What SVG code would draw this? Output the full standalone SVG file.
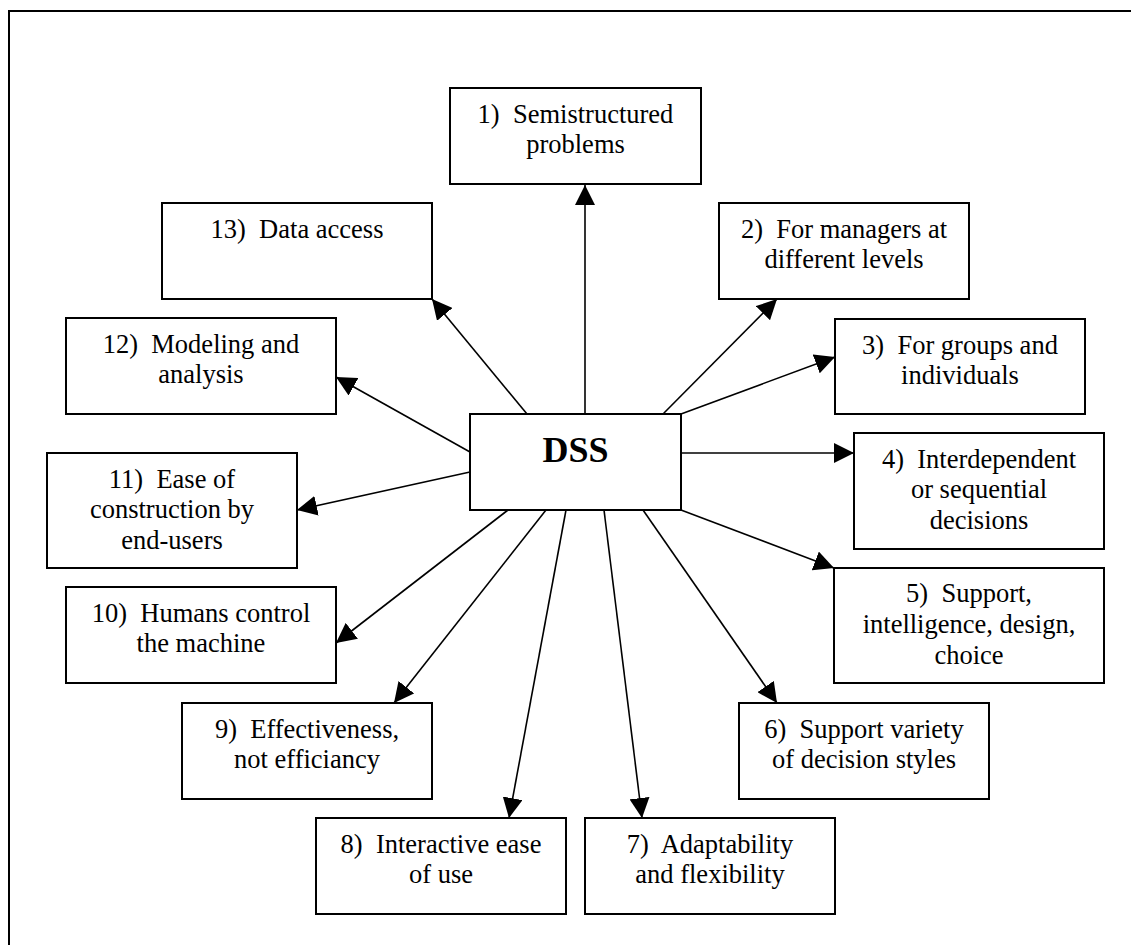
<svg xmlns="http://www.w3.org/2000/svg" width="1131" height="945" viewBox="0 0 1131 945">
  <style>
    .box { fill: #fff; stroke: #000; stroke-width: 2; }
    .lbl { font-family: 'Liberation Serif', 'Times New Roman', serif; font-size: 26.5px; fill: #000; text-anchor: middle; }
    .hub { font-family: 'Liberation Serif', 'Times New Roman', serif; font-size: 36px; font-weight: bold; fill: #000; text-anchor: middle; }
    .edge { stroke: #000; stroke-width: 1.6; fill: none; marker-end: url(#arrow); }
  </style>
  <defs>
    <marker id="arrow" markerUnits="userSpaceOnUse" markerWidth="20" markerHeight="20" refX="20" refY="10" orient="auto" viewBox="0 0 20 20">
      <path d="M0,0 L20,10 L0,20 Z" fill="#000"/>
    </marker>
  </defs>
  <rect width="1131" height="945" fill="#fff"/>

  <!-- frame: top and left rules -->
  <path d="M9,945 V11 H1131" fill="none" stroke="#000" stroke-width="2"/>

  <!-- connectors from the DSS hub -->
  <g id="connectors">
    <line class="edge" x1="585" y1="414" x2="585" y2="185"/>
    <line class="edge" x1="663" y1="414" x2="777" y2="299"/>
    <line class="edge" x1="681" y1="414" x2="835" y2="357"/>
    <line class="edge" x1="681" y1="453" x2="854" y2="453"/>
    <line class="edge" x1="681" y1="510" x2="834" y2="568"/>
    <line class="edge" x1="643" y1="510" x2="777" y2="703"/>
    <line class="edge" x1="604" y1="510" x2="642" y2="818"/>
    <line class="edge" x1="566" y1="510" x2="509" y2="818"/>
    <line class="edge" x1="546" y1="510" x2="394" y2="703"/>
    <line class="edge" x1="508" y1="510" x2="336" y2="643"/>
    <line class="edge" x1="470" y1="472" x2="297" y2="510"/>
    <line class="edge" x1="470" y1="452" x2="336" y2="377"/>
    <line class="edge" x1="527" y1="414" x2="432" y2="299"/>
  </g>

  <g id="dss">
    <rect class="box" x="470" y="414" width="211" height="96"/>
    <text class="hub" x="575.5" y="462">DSS</text>
  </g>

  <g id="n1">
    <rect class="box" x="450" y="88" width="251" height="96"/>
    <text class="lbl" x="575.5" y="122.5" xml:space="preserve">1)  Semistructured</text>
    <text class="lbl" x="575.5" y="153">problems</text>
  </g>

  <g id="n2">
    <rect class="box" x="719" y="203" width="250" height="96"/>
    <text class="lbl" x="844" y="237.5" xml:space="preserve">2)  For managers at</text>
    <text class="lbl" x="844" y="268">different levels</text>
  </g>

  <g id="n3">
    <rect class="box" x="835" y="319" width="250" height="95"/>
    <text class="lbl" x="960" y="353.5" xml:space="preserve">3)  For groups and</text>
    <text class="lbl" x="960" y="384">individuals</text>
  </g>

  <g id="n4">
    <rect class="box" x="854" y="433" width="250" height="116"/>
    <text class="lbl" x="979" y="467.5" xml:space="preserve">4)  Interdependent</text>
    <text class="lbl" x="979" y="498">or sequential</text>
    <text class="lbl" x="979" y="528.5">decisions</text>
  </g>

  <g id="n5">
    <rect class="box" x="834" y="568" width="270" height="115"/>
    <text class="lbl" x="969" y="602" xml:space="preserve">5)  Support,</text>
    <text class="lbl" x="969" y="633">intelligence, design,</text>
    <text class="lbl" x="969" y="664">choice</text>
  </g>

  <g id="n6">
    <rect class="box" x="739" y="703" width="250" height="96"/>
    <text class="lbl" x="864" y="737.5" xml:space="preserve">6)  Support variety</text>
    <text class="lbl" x="864" y="768">of decision styles</text>
  </g>

  <g id="n7">
    <rect class="box" x="585" y="818" width="250" height="96"/>
    <text class="lbl" x="710" y="852.5" xml:space="preserve">7)  Adaptability</text>
    <text class="lbl" x="710" y="883">and flexibility</text>
  </g>

  <g id="n8">
    <rect class="box" x="316" y="818" width="250" height="96"/>
    <text class="lbl" x="441" y="852.5" xml:space="preserve">8)  Interactive ease</text>
    <text class="lbl" x="441" y="883">of use</text>
  </g>

  <g id="n9">
    <rect class="box" x="182" y="703" width="250" height="96"/>
    <text class="lbl" x="307" y="737.5" xml:space="preserve">9)  Effectiveness,</text>
    <text class="lbl" x="307" y="768">not efficiancy</text>
  </g>

  <g id="n10">
    <rect class="box" x="66" y="587" width="270" height="96"/>
    <text class="lbl" x="201" y="621.5" xml:space="preserve">10)  Humans control</text>
    <text class="lbl" x="201" y="652">the machine</text>
  </g>

  <g id="n11">
    <rect class="box" x="47" y="453" width="250" height="115"/>
    <text class="lbl" x="172" y="487.5" xml:space="preserve">11)  Ease of</text>
    <text class="lbl" x="172" y="518">construction by</text>
    <text class="lbl" x="172" y="548.5">end-users</text>
  </g>

  <g id="n12">
    <rect class="box" x="66" y="318" width="270" height="96"/>
    <text class="lbl" x="201" y="352.5" xml:space="preserve">12)  Modeling and</text>
    <text class="lbl" x="201" y="383">analysis</text>
  </g>

  <g id="n13">
    <rect class="box" x="162" y="203" width="270" height="96"/>
    <text class="lbl" x="297" y="237.5" xml:space="preserve">13)  Data access</text>
  </g>
</svg>
